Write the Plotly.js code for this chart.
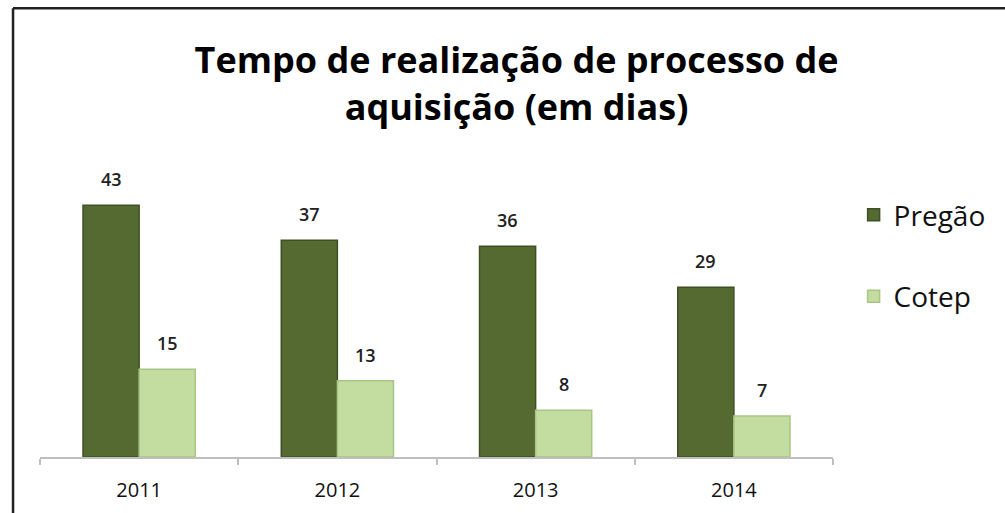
<!DOCTYPE html>
<html>
<head>
<meta charset="utf-8">
<script src="https://cdn.plot.ly/plotly-3.0.1.min.js"></script>
<style>html,body{margin:0;padding:0;background:#fff;}#chart{width:1005px;height:513px;}</style>
</head>
<body>
<div id="chart"></div>
<script>
const years = ['2011', '2012', '2013', '2014'];
const pregao = [43, 37, 36, 29];
const cotep = [15, 13, 8, 7];
const seriesNames = ['Pregão', 'Cotep'];
const titleText = 'Tempo de realização de processo de<br>aquisição (em dias)';

const FONT = 'Open Sans, DejaVu Sans, sans-serif';
const colors = ['#546a31', '#c3dc9f'];
const edges = ['#3f5124', '#a9c585'];

const traces = [pregao, cotep].map((vals, i) => ({
  type: 'bar',
  name: seriesNames[i],
  x: years,
  y: vals,
  legendgroup: 'g' + i,
  marker: {color: colors[i], line: {color: edges[i], width: 1.5}},
  hoverinfo: 'x+y'
}));

const annotations = [];
[pregao, cotep].forEach((vals, i) => {
  vals.forEach((v, j) => {
    annotations.push({
      x: j, y: v, xref: 'x', yref: 'y',
      xshift: i === 0 ? -28 : 28, yshift: 12,
      yanchor: 'bottom', showarrow: false,
      text: String(v),
      font: {family: FONT, size: 18, color: '#222', weight: 600}
    });
  });
});

const layout = {
  width: 1005, height: 513,
  margin: {l: 40, r: 172, t: 170, b: 56},
  paper_bgcolor: '#fff', plot_bgcolor: '#fff',
  title: {
    text: titleText,
    font: {family: FONT, size: 36, color: '#000', weight: 'bold'},
    xref: 'container', yref: 'container',
    x: 0.514, xanchor: 'center', y: 0.857, yanchor: 'top'
  },
  barmode: 'group',
  bargap: 0.434,
  bargroupgap: 0,
  xaxis: {
    type: 'category',
    range: [-0.5, 3.5],
    showline: true, linecolor: '#bfbfbf', linewidth: 2,
    ticks: 'outside', tickson: 'boundaries', ticklen: 6, tickcolor: '#bfbfbf', tickwidth: 2,
    ticklabelstandoff: 14,
    tickfont: {family: FONT, size: 20, color: '#111', weight: 500},
    showgrid: false, zeroline: false, fixedrange: true
  },
  yaxis: {
    range: [0, 49], visible: false, showgrid: false, zeroline: false, fixedrange: true
  },
  showlegend: true,
  legend: {
    x: 1.026, xanchor: 'left', y: 0.93, yanchor: 'top',
    font: {family: FONT, size: 28, color: '#111'},
    traceorder: 'grouped', tracegroupgap: 42,
    itemwidth: 30, bgcolor: 'rgba(0,0,0,0)'
  },
  annotations: annotations,
  shapes: [
    {type: 'line', xref: 'paper', yref: 'paper', x0: -0.034, x1: -0.034, y0: -0.3, y1: 1.564,
     line: {color: '#222', width: 2.5}},
    {type: 'line', xref: 'paper', yref: 'paper', x0: -0.034, x1: 1.3, y0: 1.564, y1: 1.564,
     line: {color: '#222', width: 2.5}}
  ]
};

Plotly.newPlot('chart', traces, layout, {displayModeBar: false, staticPlot: true});
</script>
</body>
</html>
